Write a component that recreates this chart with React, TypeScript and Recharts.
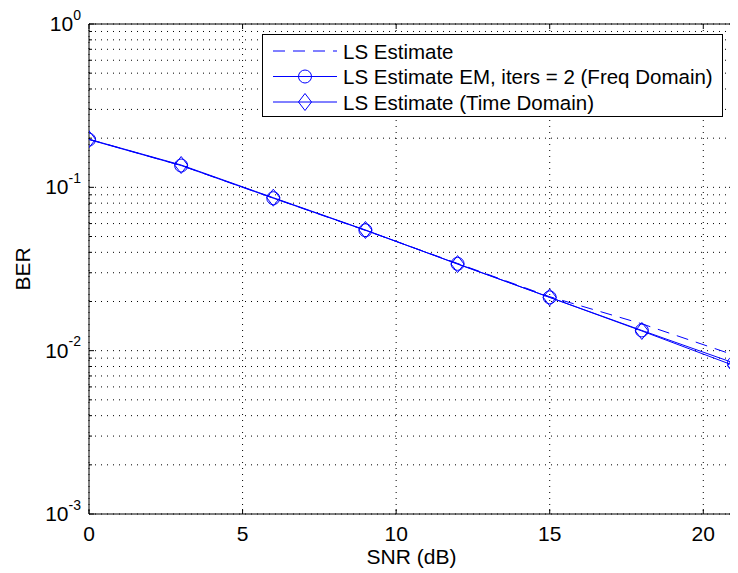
import React from 'react';
import { LineChart, Line, XAxis, YAxis, CartesianGrid, Legend, ReferenceArea } from 'recharts';

const snrDb = [0, 3, 6, 9, 12, 15, 18, 21];
const lsEstimate = [0.197, 0.136, 0.086, 0.0545, 0.0342, 0.0214, 0.0146, 0.0094];
const lsEmFreq = [0.196, 0.136, 0.0858, 0.0546, 0.034, 0.0212, 0.0133, 0.0084];
const lsTime = [0.197, 0.137, 0.0864, 0.0548, 0.0339, 0.0212, 0.0132, 0.0081];
const seriesNames = ['LS Estimate', 'LS Estimate EM, iters = 2 (Freq Domain)', 'LS Estimate (Time Domain)'];
const xTicks = [0, 5, 10, 15, 20];
const yDecadeExponents = [-3, -2, -1, 0];
const yMinorMultipliers = [2, 3, 4, 5, 6, 7, 8, 9];

const BLUE = '#0000ff';
const FONT = 'Liberation Sans, Arial, Helvetica, sans-serif';

const data = snrDb.map((x, i) => ({ snr: x, ls: lsEstimate[i], em: lsEmFreq[i], time: lsTime[i] }));

const yTicks: number[] = [];
yDecadeExponents.forEach((e) => {
  yTicks.push(Math.pow(10, e));
  if (e < 0) yMinorMultipliers.forEach((m) => yTicks.push(m * Math.pow(10, e)));
});
yTicks.sort((a, b) => a - b);

const isMajor = (v: number) => Math.abs(Math.log10(v) - Math.round(Math.log10(v))) < 1e-9;

const LeftTick = (props: any) => {
  const { x, y, payload } = props;
  const v = payload.value;
  const major = isMajor(v);
  const exp = Math.round(Math.log10(v));
  return (
    <g>
      <line x1={x} y1={y} x2={x + (major ? 5 : 3)} y2={y} stroke="#000" strokeWidth={1} />
      {major && (
        <text x={x - 8} y={y + 7} textAnchor="end" fontFamily={FONT} fontSize={21} fill="#000">
          10
          <tspan dy={-11.5} fontSize={14}>{exp < 0 ? '-' + Math.abs(exp) : String(exp)}</tspan>
        </text>
      )}
    </g>
  );
};

const RightTick = (props: any) => {
  const { x, y, payload } = props;
  const major = isMajor(payload.value);
  return <line x1={x} y1={y} x2={x - (major ? 5 : 3)} y2={y} stroke="#000" strokeWidth={1} />;
};

const BottomTick = (props: any) => {
  const { x, y, payload } = props;
  return (
    <g>
      <line x1={x} y1={y} x2={x} y2={y - 5} stroke="#000" strokeWidth={1} />
      <text x={x} y={y + 27} textAnchor="middle" fontFamily={FONT} fontSize={21} fill="#000">
        {payload.value}
      </text>
    </g>
  );
};

const TopTick = (props: any) => {
  const { x, y } = props;
  return <line x1={x} y1={y} x2={x} y2={y + 5} stroke="#000" strokeWidth={1} />;
};

const CircleDot = (props: any) => {
  const { cx, cy, index } = props;
  if (cx == null || cy == null) return <g key={`c-${index}`} />;
  return <circle key={`c-${index}`} cx={cx} cy={cy} r={6.5} fill="none" stroke={BLUE} strokeWidth={1} />;
};

const DiamondDot = (props: any) => {
  const { cx, cy, index } = props;
  if (cx == null || cy == null) return <g key={`d-${index}`} />;
  return (
    <path
      key={`d-${index}`}
      d={`M${cx},${cy - 8.5} L${cx + 6.5},${cy} L${cx},${cy + 8.5} L${cx - 6.5},${cy} Z`}
      fill="none"
      stroke={BLUE}
      strokeWidth={1}
    />
  );
};

const legendRows = [
  { dash: '12 8', marker: 'none' },
  { dash: undefined, marker: 'circle' },
  { dash: undefined, marker: 'diamond' },
];

const renderLegend = () => (
  <svg width={462} height={84} style={{ display: 'block', overflow: 'visible' }}>
    <rect x={0.5} y={0.5} width={460} height={82} fill="#fff" stroke="#000" strokeWidth={1} />
    {legendRows.map((r, i) => {
      const cy = 17 + i * 25.5;
      return (
        <g key={i}>
          <line x1={11} y1={cy} x2={75} y2={cy} stroke={BLUE} strokeWidth={1} strokeDasharray={r.dash} />
          {r.marker === 'circle' && <circle cx={43} cy={cy} r={6.5} fill="none" stroke={BLUE} />}
          {r.marker === 'diamond' && (
            <path d={`M43,${cy - 8.5} L49.5,${cy} L43,${cy + 8.5} L36.5,${cy} Z`} fill="none" stroke={BLUE} />
          )}
          <text x={81} y={cy + 7.5} fontFamily={FONT} fontSize={20.5} fill="#000">
            {seriesNames[i]}
          </text>
        </g>
      );
    })}
  </svg>
);

const XLabel = (p: any) => {
  const vb = p.viewBox || {};
  return (
    <text x={vb.x + vb.width / 2} y={vb.y + 50} textAnchor="middle" fontFamily={FONT} fontSize={21} fill="#000">
      SNR (dB)
    </text>
  );
};

const YLabel = (p: any) => {
  const vb = p.viewBox || {};
  const cx = vb.x + vb.width - 59;
  const cy = vb.y + vb.height / 2;
  return (
    <text x={cx} y={cy} transform={`rotate(-90 ${cx} ${cy})`} textAnchor="middle" fontFamily={FONT} fontSize={21} fill="#000">
      BER
    </text>
  );
};

export default function App() {
  return (
    <div style={{ width: 730, height: 565, background: '#fff' }}>
      <LineChart width={730} height={565} data={data} margin={{ top: 15, right: 3, bottom: 58, left: 80 }}>
        <CartesianGrid stroke="#000" strokeDasharray="1 5" strokeWidth={1} />
        <XAxis
          dataKey="snr"
          type="number"
          domain={[0, 21]}
          ticks={xTicks}
          interval={0}
          allowDataOverflow
          height={1}
          tickSize={0}
          tickMargin={0}
          axisLine={false}
          tickLine={false}
          tick={<BottomTick />}
          label={{ content: <XLabel /> }}
        />
        <XAxis
          xAxisId="top"
          orientation="top"
          dataKey="snr"
          type="number"
          domain={[0, 21]}
          ticks={xTicks}
          interval={0}
          allowDataOverflow
          height={1}
          tickSize={0}
          tickMargin={0}
          axisLine={false}
          tickLine={false}
          tick={<TopTick />}
        />
        <YAxis
          type="number"
          scale="log"
          domain={[0.001, 1]}
          ticks={yTicks}
          interval={0}
          allowDataOverflow
          width={1}
          tickSize={0}
          tickMargin={0}
          axisLine={false}
          tickLine={false}
          tick={<LeftTick />}
          label={{ content: <YLabel /> }}
        />
        <YAxis
          yAxisId="right"
          orientation="right"
          type="number"
          scale="log"
          domain={[0.001, 1]}
          ticks={yTicks}
          interval={0}
          allowDataOverflow
          width={1}
          tickSize={0}
          tickMargin={0}
          axisLine={false}
          tickLine={false}
          tick={<RightTick />}
        />
        <ReferenceArea x1={0} x2={21} y1={0.001} y2={1} fill="none" stroke="#000" strokeWidth={1} ifOverflow="visible" />
        <Line
          dataKey="ls"
          name={seriesNames[0]}
          stroke={BLUE}
          strokeWidth={1}
          strokeDasharray="12 8"
          dot={false}
          activeDot={false}
          isAnimationActive={false}
        />
        <Line
          dataKey="em"
          name={seriesNames[1]}
          stroke={BLUE}
          strokeWidth={1}
          dot={CircleDot}
          activeDot={false}
          isAnimationActive={false}
        />
        <Line
          dataKey="time"
          name={seriesNames[2]}
          stroke={BLUE}
          strokeWidth={1}
          dot={DiamondDot}
          activeDot={false}
          isAnimationActive={false}
        />
        <Legend
          content={renderLegend}
          wrapperStyle={{ position: 'absolute', left: 254, top: 26, width: 0, height: 0, overflow: 'visible', margin: 0, padding: 0 }}
        />
      </LineChart>
    </div>
  );
}
